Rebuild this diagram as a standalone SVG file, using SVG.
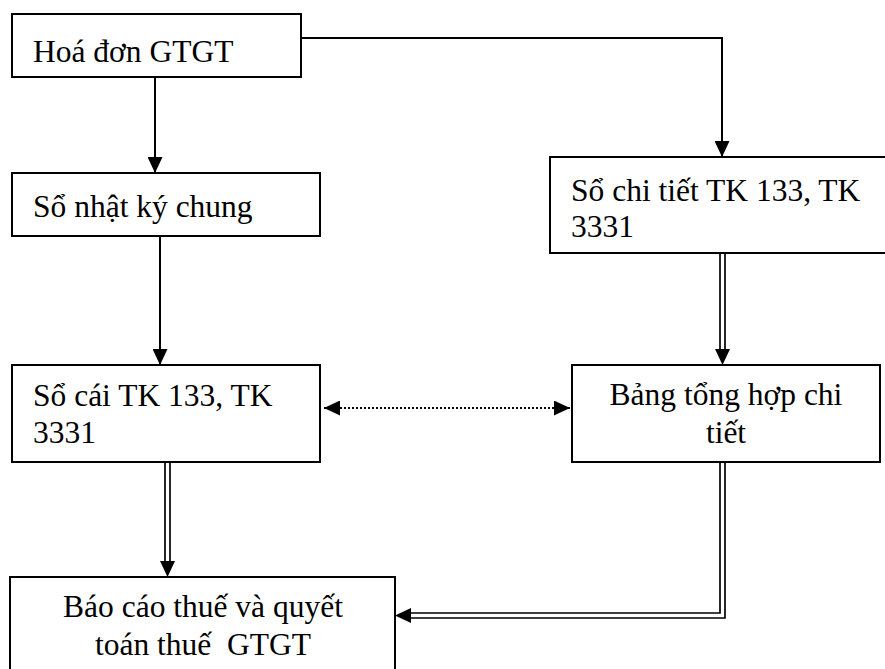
<svg xmlns="http://www.w3.org/2000/svg" width="885" height="669" viewBox="0 0 885 669">
<style>
.box{fill:#fff;stroke:#000;stroke-width:2}
.t{font-family:"Liberation Serif","Times New Roman",serif;font-size:31.5px;fill:#000}
.c{text-anchor:middle}
.ln{fill:none;stroke:#000;stroke-width:2}
.dl{fill:none;stroke:#000;stroke-width:1.7}
.dot{fill:none;stroke:#000;stroke-width:2;stroke-dasharray:2 2}
.hd{fill:none;stroke:none}
</style>
<defs>
<marker id="ah" viewBox="0 0 16 15" refX="16" refY="7.5" markerWidth="16" markerHeight="15" markerUnits="userSpaceOnUse" orient="auto-start-reverse">
<path d="M0,0 L16,7.5 L0,15 z" fill="#000"/>
</marker>
</defs>
<g id="connectors">
<path class="ln" d="M155,77 V173" marker-end="url(#ah)"/>
<path class="ln" d="M301,38 H722 V157" marker-end="url(#ah)"/>
<path class="ln" d="M160,236 V365" marker-end="url(#ah)"/>
<path class="dl" d="M720,253 V355"/>
<path class="dl" d="M725,253 V355"/>
<path class="hd" d="M722.5,300 V365" marker-end="url(#ah)"/>
<path class="dot" d="M324,408 H570" marker-start="url(#ah)" marker-end="url(#ah)"/>
<path class="dl" d="M165,462 V567"/>
<path class="dl" d="M170,462 V567"/>
<path class="hd" d="M167.5,520 V577" marker-end="url(#ah)"/>
<path class="dl" d="M720,462 V613 H405"/>
<path class="dl" d="M725,462 V618 H405"/>
<path class="hd" d="M450,615.5 H395" marker-end="url(#ah)"/>
</g>
<g id="n1"><rect class="box" x="12" y="14" width="289" height="63"/><text class="t" x="33" y="62">Hoá đơn GTGT</text></g>
<g id="n2"><rect class="box" x="12" y="173" width="308" height="63"/><text class="t" x="33" y="217">Sổ nhật ký chung</text></g>
<g id="n3"><rect class="box" x="550" y="157" width="345" height="96"/><text class="t" x="571" y="201">Sổ chi tiết TK 133, TK</text><text class="t" x="571" y="237">3331</text></g>
<g id="n4"><rect class="box" x="12" y="365" width="308" height="97"/><text class="t" x="33" y="406">Sổ cái TK 133, TK</text><text class="t" x="33" y="443">3331</text></g>
<g id="n5"><rect class="box" x="572" y="365" width="308" height="97"/><text class="t c" x="726" y="405">Bảng tổng hợp chi</text><text class="t c" x="726" y="443">tiết</text></g>
<g id="n6"><rect class="box" x="10" y="577" width="385" height="110"/><text class="t c" x="203" y="617">Báo cáo thuế và quyết</text><text class="t c" x="203" y="655" xml:space="preserve">toán thuế  GTGT</text></g>
</svg>
